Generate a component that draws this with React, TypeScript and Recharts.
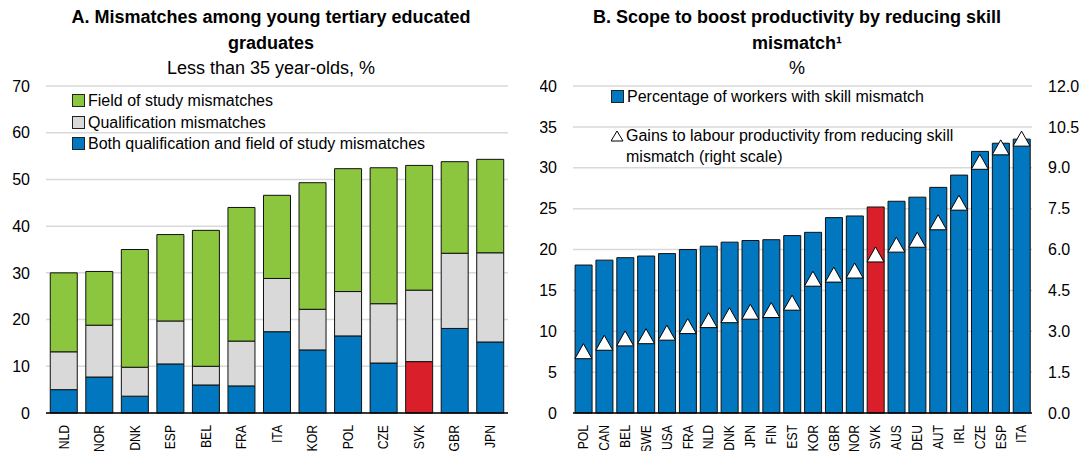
import { ComposedChart, Bar, Line, XAxis, YAxis, CartesianGrid, Legend, Cell } from 'recharts';

const FONT = '"Liberation Sans", Arial, sans-serif';

// Panel A: mismatches among young tertiary educated graduates (% of < 35 year-olds)
const countriesA = ['NLD', 'NOR', 'DNK', 'ESP', 'BEL', 'FRA', 'ITA', 'KOR', 'POL', 'CZE', 'SVK', 'GBR', 'JPN'];
const bothA = [5.0, 7.7, 3.6, 10.5, 6.0, 5.8, 17.4, 13.5, 16.5, 10.7, 11.0, 18.1, 15.2];
const qualA = [8.1, 11.1, 6.2, 9.2, 4.0, 9.6, 11.4, 8.7, 9.5, 12.7, 15.3, 16.1, 19.1];
const fieldA = [16.9, 11.5, 25.2, 18.5, 29.1, 28.6, 17.8, 27.1, 26.3, 29.1, 26.7, 19.6, 20.0];
const ticksA = [0, 10, 20, 30, 40, 50, 60, 70];

// Panel B: skill mismatch (left scale) and productivity gains (right scale)
const countriesB = ['POL', 'CAN', 'BEL', 'SWE', 'USA', 'FRA', 'NLD', 'DNK', 'JPN', 'FIN', 'EST', 'KOR', 'GBR', 'NOR', 'SVK', 'AUS', 'DEU', 'AUT', 'IRL', 'CZE', 'ESP', 'ITA'];
const mismatchB = [18.1, 18.7, 19.0, 19.2, 19.5, 20.0, 20.4, 20.9, 21.1, 21.2, 21.7, 22.1, 23.9, 24.1, 25.2, 25.9, 26.4, 27.6, 29.1, 32.0, 33.0, 33.5];
const gainsB = [2.25, 2.56, 2.72, 2.8, 2.93, 3.17, 3.39, 3.57, 3.7, 3.76, 4.03, 4.91, 5.06, 5.21, 5.8, 6.16, 6.34, 6.98, 7.7, 9.2, 9.73, 10.05];
const ticksBLeft = [0, 5, 10, 15, 20, 25, 30, 35, 40];
const ticksBRight = [0, 1.5, 3, 4.5, 6, 7.5, 9, 10.5, 12];

const HIGHLIGHT = 'SVK';
const BLUE = '#0077bf';
const GREEN = '#8cc63f';
const GREY = '#d9d9d9';
const RED = '#d9202a';
const GRID = '#d9d9d9';

const dataA = countriesA.map((c, i) => ({ country: c, both: bothA[i], qual: qualA[i], field: fieldA[i] }));
const dataB = countriesB.map((c, i) => ({ country: c, mismatch: mismatchB[i], gain: gainsB[i] }));

const tickStyle = { fill: '#000', fontSize: 16, fontFamily: FONT };

// condensed, rotated category label (the original uses a narrow face)
function RotatedTick(props: any) {
  const { x, y, payload, size } = props;
  return (
    <text transform={`translate(${x} ${y + 4}) rotate(-90) scale(0.87 1)`} textAnchor="end" dominantBaseline="central"
      fill="#000" fontSize={size} fontFamily={FONT}>
      {payload.value}
    </text>
  );
}

function Triangle(props: any) {
  const { cx, cy } = props;
  if (cx == null || cy == null) return null;
  return <polygon points={`${cx},${cy - 8} ${cx + 8.5},${cy + 7} ${cx - 8.5},${cy + 7}`} fill="#fff" stroke="#000" strokeWidth={1} />;
}

const legendText: React.CSSProperties = { fontFamily: FONT, fontSize: 16, color: '#000', lineHeight: '21.5px' };
const swatch = (color: string): React.CSSProperties => ({
  display: 'inline-block', width: 11, height: 11, background: color, border: '1px solid #222', marginRight: 3, verticalAlign: '-1px',
});

function LegendA() {
  const items = [
    { label: 'Field of study mismatches', color: GREEN },
    { label: 'Qualification mismatches', color: GREY },
    { label: 'Both qualification and field of study mismatches', color: BLUE },
  ];
  return (
    <div style={legendText}>
      {items.map(it => (
        <div key={it.label} style={{ whiteSpace: 'nowrap' }}>
          <span style={swatch(it.color)} />{it.label}
        </div>
      ))}
    </div>
  );
}

function LegendB() {
  return (
    <div style={{ ...legendText, width: 400 }}>
      <div style={{ whiteSpace: 'nowrap', marginBottom: 17 }}>
        <span style={swatch(BLUE)} />Percentage of workers with skill mismatch
      </div>
      <div style={{ display: 'flex' }}>
        <svg width={14} height={12} style={{ marginTop: 5, marginRight: 1, flex: 'none' }}>
          <polygon points="6,1 12,11 0,11" fill="#fff" stroke="#000" strokeWidth={1} />
        </svg>
        <div>Gains to labour productivity from reducing skill<br />mismatch (right scale)</div>
      </div>
    </div>
  );
}

const titleStyle: React.CSSProperties = {
  position: 'absolute', top: 5, textAlign: 'center', fontFamily: FONT, fontSize: 18, lineHeight: '25.5px', color: '#000',
};

export default function App() {
  return (
    <div style={{ position: 'absolute', left: 0, top: 0, width: 1086, height: 451, background: '#fff', overflow: 'hidden' }}>
      <div style={{ ...titleStyle, left: 0, width: 542 }}>
        <div style={{ fontWeight: 'bold' }}>A. Mismatches among young tertiary educated</div>
        <div style={{ fontWeight: 'bold' }}>graduates</div>
        <div>Less than 35 year-olds, %</div>
      </div>
      <div style={{ ...titleStyle, left: 560, width: 474 }}>
        <div style={{ fontWeight: 'bold' }}>B. Scope to boost productivity by reducing skill</div>
        <div style={{ fontWeight: 'bold' }}>mismatch¹</div>
        <div>%</div>
      </div>

      <div style={{ position: 'absolute', left: 0, top: 0 }}>
        <ComposedChart width={540} height={451} data={dataA} margin={{ top: 86, right: 32, left: 6, bottom: 2 }} barCategoryGap="12%">
          <CartesianGrid vertical={false} stroke={GRID} strokeWidth={1.5} />
          <XAxis dataKey="country" tick={<RotatedTick size={14} />} tickLine={false} axisLine={{ stroke: '#000', strokeWidth: 1.5 }} height={36} interval={0} />
          <YAxis domain={[0, 70]} ticks={ticksA} tick={tickStyle} tickLine={false} axisLine={false} width={40} tickMargin={10} />
          <Legend layout="vertical" align="center" verticalAlign="middle" wrapperStyle={{ left: 72, top: 90, width: 420 }} content={() => <LegendA />} />
          <Bar dataKey="both" stackId="a" fill={BLUE} stroke="#111" strokeWidth={1} isAnimationActive={false}>
            {dataA.map(d => <Cell key={d.country} fill={d.country === HIGHLIGHT ? RED : BLUE} />)}
          </Bar>
          <Bar dataKey="qual" stackId="a" fill={GREY} stroke="#111" strokeWidth={1} isAnimationActive={false} />
          <Bar dataKey="field" stackId="a" fill={GREEN} stroke="#111" strokeWidth={1} isAnimationActive={false} />
        </ComposedChart>
      </div>

      <div style={{ position: 'absolute', left: 540, top: 0 }}>
        <ComposedChart width={546} height={451} data={dataB} margin={{ top: 86, right: 8, left: 0, bottom: 2 }} barCategoryGap="10%">
          <CartesianGrid vertical={false} stroke={GRID} strokeWidth={1.5} yAxisId="left" />
          <XAxis dataKey="country" tick={<RotatedTick size={14} />} tickLine={false} axisLine={{ stroke: '#000', strokeWidth: 1.5 }} height={36} interval={0} />
          <YAxis yAxisId="left" domain={[0, 40]} ticks={ticksBLeft} tick={tickStyle} tickLine={false} axisLine={false} width={33} tickMargin={10} />
          <YAxis yAxisId="right" orientation="right" domain={[0, 12]} ticks={ticksBRight} tick={tickStyle} tickLine={false} axisLine={false}
            width={46} tickMargin={10} tickFormatter={(v: number) => v.toFixed(1)} />
          <Legend layout="vertical" align="center" verticalAlign="middle" wrapperStyle={{ left: 71, top: 86, width: 420 }} content={() => <LegendB />} />
          <Bar yAxisId="left" dataKey="mismatch" fill={BLUE} stroke="#111" strokeWidth={1} isAnimationActive={false}>
            {dataB.map(d => <Cell key={d.country} fill={d.country === HIGHLIGHT ? RED : BLUE} />)}
          </Bar>
          <Line yAxisId="right" dataKey="gain" stroke="none" dot={<Triangle />} activeDot={false} legendType="none" isAnimationActive={false} />
        </ComposedChart>
      </div>
    </div>
  );
}
